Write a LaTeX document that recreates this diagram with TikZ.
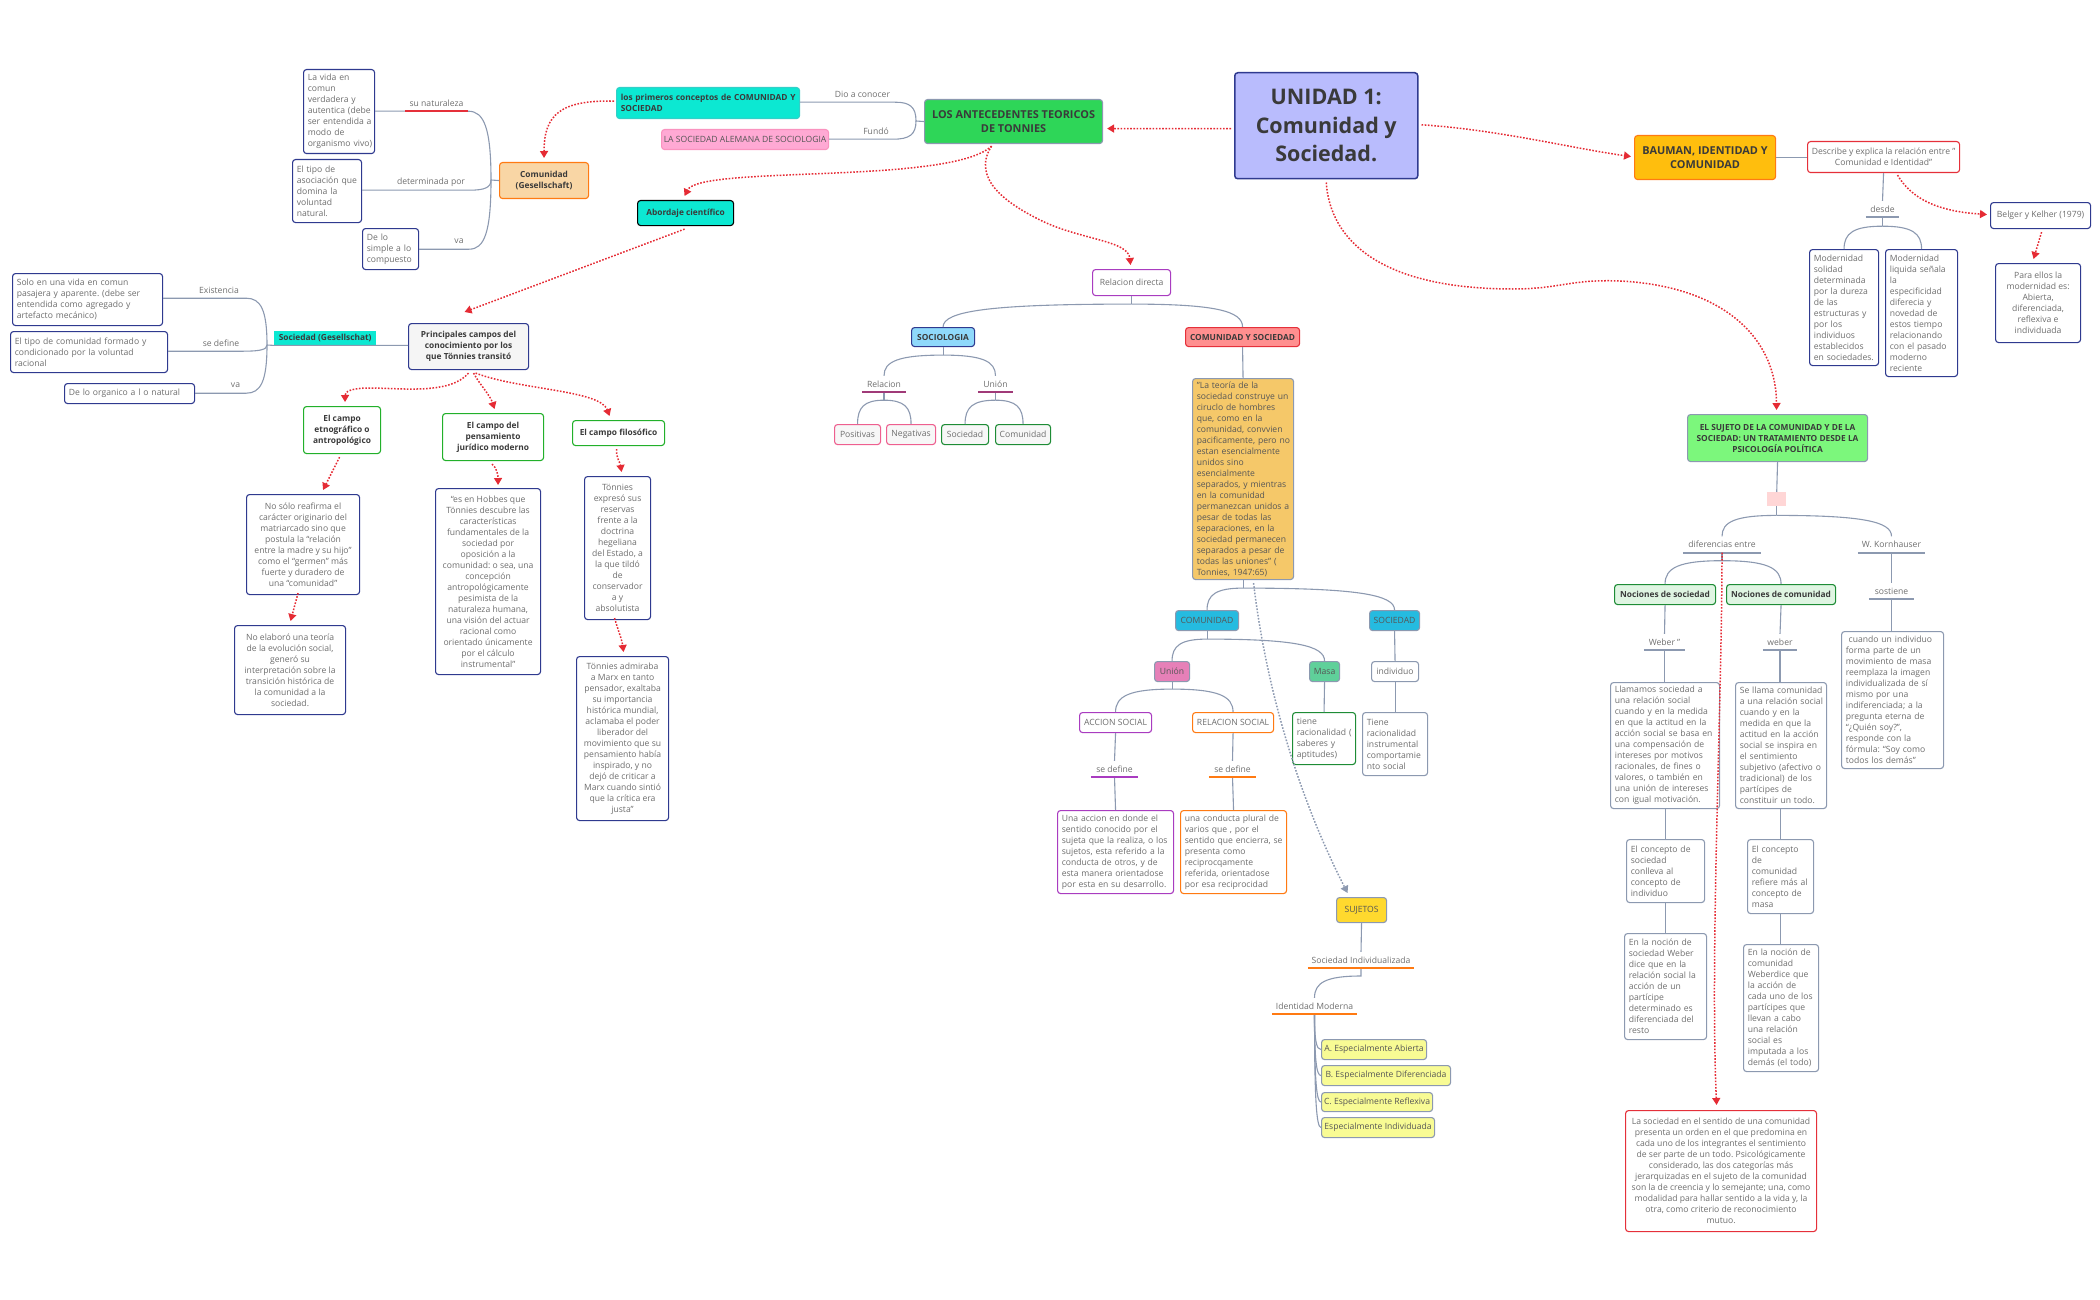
\documentclass[tikz,border=0pt]{standalone}
\usepackage{fontspec}
\setmainfont{Open Sans}
\usetikzlibrary{arrows.meta, calc}

\definecolor{txtgrey}{HTML}{6E6E6E}
\definecolor{txtdark}{HTML}{3A3A3A}
\definecolor{txtmid}{HTML}{565656}
\definecolor{connblue}{HTML}{8C99B0}
\definecolor{navyline}{HTML}{2F3A8F}
\definecolor{softline}{HTML}{8C99B0}
\definecolor{greenline}{HTML}{1E8C36}
\definecolor{limeline}{HTML}{22B02A}
\definecolor{purpleline}{HTML}{A93CC0}
\definecolor{orangeline}{HTML}{FF7A12}
\definecolor{redline}{HTML}{E5303A}
\definecolor{pinkline}{HTML}{EE5F8F}
\definecolor{maroonline}{HTML}{A03A78}
\definecolor{arrowred}{HTML}{E52B34}
\definecolor{unidadfill}{HTML}{B9BCFD}
\definecolor{losfill}{HTML}{2ED658}
\definecolor{baufill}{HTML}{FFBE0D}
\definecolor{comfill}{HTML}{F9D6A5}
\definecolor{cyanfill}{HTML}{0CE8D2}
\definecolor{pinkfill}{HTML}{FFA9D4}
\definecolor{skyfill}{HTML}{8FD9FB}
\definecolor{salmonfill}{HTML}{FF8F8F}
\definecolor{teorfill}{HTML}{F5C869}
\definecolor{bluefill}{HTML}{25BBE0}
\definecolor{unionfill}{HTML}{E680B8}
\definecolor{masafill}{HTML}{5FD09A}
\definecolor{yellowfill}{HTML}{FFD92E}
\definecolor{limefill}{HTML}{F8FB94}
\definecolor{sujfill}{HTML}{7CF77C}
\definecolor{blushfill}{HTML}{FFD6D6}
\definecolor{mintfill}{HTML}{DFF5E2}

\tikzset{
	sz/.style 2 args={minimum width=#1, minimum height=#2},
	lsz/.code 2 args={\pgfmathsetmacro\boxw{#1-8.5}\tikzset{minimum height=#2, text width=\boxw pt, inner xsep=4.25pt,
		execute at begin node={\rightskip=-30pt plus 1fil\relax\hyphenpenalty=10000\relax\exhyphenpenalty=10000\relax}}},
	tbox/.style={draw=#1, fill=white, rounded corners=3pt, line width=1.1pt, inner sep=0pt, anchor=north west,
		font=\fontsize{8.6}{11}\selectfont, text=txtgrey, align=left},
	cbox/.style={tbox=#1, align=center},
	bbox/.style={tbox=#1, align=center, text=txtdark, font=\fontsize{8.35}{11}\selectfont\bfseries},
	lbl/.style={inner sep=0pt, minimum height=16pt, font=\fontsize{8.6}{11}\selectfont, text=txtgrey},
	conn/.style={draw=connblue, line width=1.1pt},
	ul/.style={draw=#1, line width=1.6pt},
	tree/.style={to path={.. controls ($(\tikztostart)!0.75!(\tikztostart -| \tikztotarget)$) and ($(\tikztotarget)!0.7!(\tikztostart -| \tikztotarget)$) .. (\tikztotarget)}},
	trunk/.style={to path={.. controls ($(\tikztostart)!0.75!(\tikztostart |- \tikztotarget)$) and ($(\tikztotarget)!0.7!(\tikztostart |- \tikztotarget)$) .. (\tikztotarget)}},
	redarrow/.style={draw=arrowred, line width=1.5pt, dash pattern=on 1.6pt off 1.6pt, -{Triangle[length=7pt,width=8pt]}},
	greyarrow/.style={redarrow, draw=connblue}
}

\begin{document}
\frenchspacing
\begin{tikzpicture}[x=1pt, y=-1pt]
	\useasboundingbox (0,0) rectangle (2100,1300);

	% Centre
	\node[bbox=navyline, fill=unidadfill, sz={183}{106}, font=\fontsize{21.5}{28.5}\selectfont\bfseries, line width=1.5pt] (unidad) at (1234,72) {UNIDAD 1:\\Comunidad y\\Sociedad.};
	\node[bbox=softline, fill=losfill, sz={178}{44}, font=\fontsize{10.9}{14}\selectfont\bfseries] (losant) at (924,99) {LOS ANTECEDENTES TEORICOS\\DE TONNIES};
	\node[bbox=orangeline, fill=baufill, sz={141}{44}, font=\fontsize{10.9}{14}\selectfont\bfseries] (bauman) at (1634,135) {BAUMAN, IDENTIDAD Y\\COMUNIDAD};

	% Left, upper
	\node[tbox=navyline, lsz={71}{84}] (vida) at (303,69) {La vida en\\comun\\verdadera y\\autentica (debe\\ser entendida a\\modo de\\organismo vivo)};
	\node[tbox=navyline, lsz={69}{63}] (tipo) at (292,159) {El tipo de\\asociación que\\domina la\\voluntad\\natural.};
	\node[tbox=navyline, lsz={56}{41}] (simple) at (362,228) {De lo\\simple a lo\\compuesto};
	\node[bbox=orangeline, fill=comfill, sz={89}{36}] (comg) at (499,162) {Comunidad\\(Gesellschaft)};
	\node[lbl, minimum width=63pt] (sunat) at (436.5,103) {su naturaleza};
	\node[lbl, minimum width=76pt] (detpor) at (431,182) {determinada por};
	\node[lbl, minimum width=20pt] (vaa) at (459,241) {va};
	\coordinate (tcom) at (491,180);

	\node[bbox=cyanfill!70!softline, fill=cyanfill, lsz={183}{31}, align=left] (primeros) at (616,87) {los primeros conceptos de COMUNIDAD Y\\SOCIEDAD};
	\node[cbox=pinkfill!70!pinkline, fill=pinkfill, sz={167}{20}, text=txtmid] (alemana) at (661,129) {LA SOCIEDAD ALEMANA DE SOCIOLOGIA};
	\node[lbl, minimum width=65pt] (dio) at (862.5,94) {Dio a conocer};
	\node[lbl, minimum width=34pt] (fundo) at (876,131) {Fundó};
	\coordinate (tlos) at (916,121);

	\node[bbox=black, fill=cyanfill, sz={96}{25}] (abordaje) at (637,200) {Abordaje científico};

	% Left, lower
	\node[tbox=navyline, lsz={150}{52}] (solo) at (12,273) {Solo en una vida en comun\\pasajera y aparente. (debe ser\\entendida como agregado y\\artefacto mecánico)};
	\node[tbox=navyline, lsz={157}{41}] (tipoc) at (10,331) {El tipo de comunidad formado y\\condicionado por la voluntad\\racional};
	\node[tbox=navyline, lsz={130}{20}] (organico) at (64,383) {De lo organico a l o natural};
	\node[lbl, minimum width=54pt] (exist) at (219,290) {Existencia};
	\node[lbl, minimum width=44pt] (sedef) at (221,343) {se define};
	\node[lbl, minimum width=21pt] (vab) at (235.5,385) {va};
	\coordinate (tsoc) at (267,345);
	\node[anchor=north west, fill=cyanfill, sz={102}{14}, inner sep=0pt, text=txtdark, font=\fontsize{8.35}{11}\selectfont\bfseries] (socg) at (274,331) {Sociedad (Gesellschat)};
	\node[bbox=navyline, fill=black!4, sz={120}{46}] (principales) at (408,323) {Principales campos del\\conocimiento por los\\que Tönnies transitó};

	\node[bbox=limeline, sz={77}{47}] (etno) at (303,406) {El campo\\etnográfico o\\antropológico};
	\node[bbox=limeline, sz={101}{47}] (pens) at (442,413) {El campo del\\pensamiento\\jurídico moderno};
	\node[bbox=limeline, sz={92}{25}] (filo) at (572,420) {El campo filosófico};
	\node[cbox=navyline, sz={113}{100}] (nosolo) at (246,494) {No sólo reafirma el\\carácter originario del\\matriarcado sino que\\postula la “relación\\entre la madre y su hijo”\\como el “germen” más\\fuerte y duradero de\\una “comunidad”};
	\node[cbox=navyline, sz={111}{89}] (noelab) at (234,625) {No elaboró una teoría\\de la evolución social,\\generó su\\interpretación sobre la\\transición histórica de\\la comunidad a la\\sociedad.};
	\node[cbox=navyline, sz={105}{186}] (hobbes) at (435,488) {“es en Hobbes que\\Tönnies descubre las\\características\\fundamentales de la\\sociedad por\\oposición a la\\comunidad: o sea, una\\concepción\\antropológicamente\\pesimista de la\\naturaleza humana,\\una visión del actuar\\racional como\\orientado únicamente\\por el cálculo\\instrumental”};
	\node[cbox=navyline, sz={66}{143}] (tonnies) at (584,476) {Tönnies\\expresó sus\\reservas\\frente a la\\doctrina\\hegeliana\\del Estado, a\\la que tildó\\de\\conservador\\a y\\absolutista};
	\node[cbox=navyline, sz={92}{164}] (admira) at (576,656) {Tönnies admiraba\\a Marx en tanto\\pensador, exaltaba\\su importancia\\histórica mundial,\\aclamaba el poder\\liberador del\\movimiento que su\\pensamiento había\\inspirado, y no\\dejó de criticar a\\Marx cuando sintió\\que la crítica era\\justa”};

	% Middle
	\node[cbox=purpleline, sz={78}{26}] (reldir) at (1092,269) {Relacion directa};
	\node[bbox=navyline, fill=skyfill, sz={63}{19}] (sociologia) at (911,327) {SOCIOLOGIA};
	\node[bbox=redline, fill=salmonfill, sz={114}{19}] (cys) at (1185,327) {COMUNIDAD Y SOCIEDAD};
	\node[lbl, minimum width=44pt] (rel) at (884,384) {Relacion};
	\node[lbl, minimum width=35pt] (uni) at (995.5,384) {Unión};
	\node[cbox=pinkline, fill=black!3, sz={46}{20}] (pos) at (834,424) {Positivas};
	\node[cbox=pinkline, fill=black!3, sz={49}{20}] (neg) at (886,424) {Negativas};
	\node[cbox=greenline, fill=black!3, sz={47}{20}] (soci) at (941,424) {Sociedad};
	\node[cbox=greenline, fill=black!3, sz={55}{20}] (comi) at (995,424) {Comunidad};
	\node[tbox=softline, fill=teorfill, lsz={101}{201}, text=txtmid] (teoria) at (1192,378) {"La teoría de la\\sociedad construye un\\ciruclo de hombres\\que, como en la\\comunidad, convvien\\pacificamente, pero no\\estan esencialmente\\unidos sino\\esencialmente\\separados, y mientras\\en la comunidad\\permanezcan unidos a\\pesar de todas las\\separaciones, en la\\sociedad permanecen\\separados a pesar de\\todas las uniones" (\\Tonnies, 1947:65)};
	\node[cbox=softline, fill=bluefill, sz={63}{20}, text=txtmid] (comu) at (1175,610) {COMUNIDAD};
	\node[cbox=softline, fill=bluefill, sz={50}{20}, text=txtmid] (socd) at (1369,610) {SOCIEDAD};
	\node[cbox=softline, fill=unionfill, sz={35}{20}, text=txtmid] (union) at (1154,661) {Unión};
	\node[cbox=softline, fill=masafill, sz={30}{20}, text=txtmid] (masa) at (1309,661) {Masa};
	\node[cbox=softline, sz={47}{20}] (indiv) at (1371,661) {individuo};
	\node[cbox=purpleline, sz={72}{20}] (accion) at (1079,712) {ACCION SOCIAL};
	\node[cbox=orangeline, sz={81}{20}] (relsoc) at (1192,712) {RELACION SOCIAL};
	\node[tbox=greenline, lsz={63}{52}] (tienerac) at (1292,712) {tiene\\racionalidad (\\saberes y\\aptitudes)};
	\node[tbox=softline, lsz={65}{63}] (tiene) at (1362,712) {Tiene\\racionalidad\\instrumental\\comportamie\\nto social};
	\node[lbl, minimum width=47pt] (sedefa) at (1114.5,769) {se define};
	\node[lbl, minimum width=47pt] (sedefb) at (1232.5,769) {se define};
	\node[tbox=purpleline, lsz={116}{83}] (unaaccion) at (1057,810) {Una accion en donde el\\sentido conocido por el\\sujeta que la realiza, o los\\sujetos, esta referido a la\\conducta de otros, y de\\esta manera orientadose\\por esta en su desarrollo.};
	\node[tbox=orangeline, lsz={106}{83}] (conducta) at (1180,810) {una conducta plural de\\varios que , por el\\sentido que encierra, se\\presenta como\\reciprocqamente\\referida, orientadose\\por esa reciprocidad};
	\node[cbox=softline, fill=yellowfill, sz={50}{25}, text=txtmid] (sujetos) at (1336,897) {SUJETOS};
	\node[lbl, minimum width=106pt] (sind) at (1361,960) {Sociedad Individualizada};
	\node[lbl, minimum width=85pt] (idm) at (1314.5,1006) {Identidad Moderna};
	\coordinate (jsind) at (1361,976);
	\node[cbox=softline, fill=limefill, sz={105}{20}, text=txtmid] (espa) at (1321,1039) {A. Especialmente Abierta};
	\node[cbox=softline, fill=limefill, sz={129}{20}, text=txtmid] (espb) at (1321,1065) {B. Especialmente Diferenciada};
	\node[cbox=softline, fill=limefill, sz={111}{19}, text=txtmid] (espc) at (1321,1092) {C. Especialmente Reflexiva};
	\node[cbox=softline, fill=limefill, sz={113}{20}, text=txtmid] (espd) at (1321,1117) {Especialmente Individuada};

	% Right
	\node[cbox=redline, sz={152}{31}] (describe) at (1807,141) {Describe y explica la relación entre "\\Comunidad e Identidad"};
	\node[lbl, minimum width=33pt] (desde) at (1882.5,209) {desde};
	\node[tbox=navyline, lsz={69}{116}] (solida) at (1809,249) {Modernidad\\solidad\\determinada\\por la dureza\\de las\\estructuras y\\por los\\individuos\\establecidos\\en sociedades.};
	\node[tbox=navyline, lsz={72}{127}] (liquida) at (1885,249) {Modernidad\\liquida señala\\la\\especificidad\\diferecia y\\novedad de\\estos tiempo\\relacionando\\con el pasado\\moderno\\reciente};
	\node[cbox=navyline, sz={100}{26}] (belger) at (1990,202) {Belger y Kelher (1979)};
	\node[cbox=navyline, sz={85}{79}] (paraellos) at (1995,263) {Para ellos la\\modernidad es:\\Abierta,\\diferenciada,\\reflexiva e\\individuada};
	\node[bbox=softline, fill=sujfill, sz={180}{47}] (sujeto) at (1687,414) {EL SUJETO DE LA COMUNIDAD Y DE LA\\SOCIEDAD: UN TRATAMIENTO DESDE LA\\PSICOLOGÍA POLÍTICA};
	\node[anchor=north west, fill=blushfill, sz={19}{14}, inner sep=0pt] (blank) at (1767,492) {};
	\node[lbl, minimum width=78pt] (dif) at (1722,544.5) {diferencias entre};
	\node[lbl, minimum width=67pt] (korn) at (1891.5,544.5) {W. Kornhauser};
	\node[bbox=greenline, fill=mintfill, sz={101}{20}] (nsoc) at (1614,584) {Nociones de sociedad};
	\node[bbox=greenline, fill=mintfill, sz={109}{20}] (ncom) at (1726,584) {Nociones de comunidad};
	\node[lbl, minimum width=41pt] (wsoc) at (1664.5,642) {Weber "};
	\node[lbl, minimum width=34pt] (wcom) at (1780,642) {weber};
	\node[lbl, minimum width=45pt] (sost) at (1891.5,591) {sostiene};
	\node[tbox=softline, lsz={102}{137}] (cuando) at (1841,631) {\ cuando un individuo\\forma parte de un\\movimiento de masa\\reemplaza la imagen\\individualizada de sí\\mismo por una\\indiferenciada; a la\\pregunta eterna de\\“¿Quién soy?”,\\responde con la\\fórmula: “Soy como\\todos los demás”};
	\node[tbox=softline, lsz={109}{126}] (llamamos) at (1610,682) {Llamamos sociedad a\\una relación social\\cuando y en la medida\\en que la actitud en la\\acción social se basa en\\una compensación de\\intereses por motivos\\racionales, de fines o\\valores, o también en\\una unión de intereses\\con igual motivación.};
	\node[tbox=softline, lsz={91}{126}] (sellama) at (1735,682) {Se llama comunidad\\a una relación social\\cuando y en la\\medida en que la\\actitud en la acción\\social se inspira en\\el sentimiento\\subjetivo (afectivo o\\tradicional) de los\\partícipes de\\constituir un todo.};
	\node[tbox=softline, lsz={78}{63}] (concsoc) at (1626,839) {El concepto de\\sociedad\\conlleva al\\concepto de\\individuo};
	\node[tbox=softline, lsz={66}{74}] (conccom) at (1747,839) {El concepto\\de\\comunidad\\refiere más al\\concepto de\\masa};
	\node[tbox=softline, lsz={82}{106}] (nocsoc) at (1624,933) {En la noción de\\sociedad Weber\\dice que en la\\relación social la\\acción de un\\partícipe\\determinado es\\diferenciada del\\resto};
	\node[tbox=softline, lsz={75}{127}] (noccom) at (1743,944) {En la noción de\\comunidad\\Weberdice que\\la acción de\\cada uno de los\\partícipes que\\llevan a cabo\\una relación\\social es\\imputada a los\\demás (el todo)};
	\node[cbox=redline, sz={191}{121}] (lasoc) at (1625,1110) {La sociedad en el sentido de una comunidad\\presenta un orden en el que predomina en\\cada uno de los integrantes el sentimiento\\de ser parte de un todo. Psicológicamente\\considerado, las dos categorías más\\jerarquizadas en el sujeto de la comunidad\\son la de creencia y lo semejante; una, como\\modalidad para hallar sentido a la vida y, la\\otra, como criterio de reconocimiento\\mutuo.};

	% Trunks on the left
	\draw[conn] (comg.west) -- (tcom) to[trunk] (sunat.south east) -- (sunat.south west) -- (vida.east |- sunat.south west);
	\draw[conn] (tcom) to[trunk] (detpor.south east) -- (detpor.south west) -- (tipo.east |- detpor.south west);
	\draw[conn] (tcom) to[trunk] (vaa.south east) -- (vaa.south west) -- (simple.east |- vaa.south west);
	\draw[ul=redline] (sunat.south west) -- (sunat.south east);
	\draw[conn] (losant.west) -- (tlos) to[trunk] (dio.south east) -- (dio.south west) -- (primeros.east |- dio.south west);
	\draw[conn] (tlos) to[trunk] (fundo.south east) -- (fundo.south west) -- (alemana.east |- fundo.south west);
	\draw[conn] (principales.west |- socg.south east) -- (socg.south east) -- (socg.south west) -- (tsoc);
	\draw[conn] (tsoc) to[trunk] (exist.south east) -- (exist.south west) -- (solo.east |- exist.south west);
	\draw[conn] (tsoc) to[trunk] (sedef.south east) -- (sedef.south west) -- (tipoc.east |- sedef.south west);
	\draw[conn] (tsoc) to[trunk] (vab.south east) -- (vab.south west) -- (organico.east |- vab.south west);

	% Trees
	\coordinate (jrd) at ($(reldir.south)+(0,8)$);
	\draw[conn] (reldir.south) -- (jrd);
	\foreach \kid in {sociologia,cys}
		\draw[conn] (jrd) to[tree] (\kid.north);
	\coordinate (jsoc) at ($(sociologia.south)+(0,8)$);
	\draw[conn] (sociologia.south) -- (jsoc);
	\foreach \kid in {rel,uni}
		\draw[conn] (jsoc) to[tree] (\kid.north);
	\coordinate (jrel) at ($(rel.south)+(0,8)$);
	\draw[conn] (rel.south) -- (jrel);
	\foreach \kid in {pos,neg}
		\draw[conn] (jrel) to[tree] (\kid.north);
	\coordinate (juni) at ($(uni.south)+(0,8)$);
	\draw[conn] (uni.south) -- (juni);
	\foreach \kid in {soci,comi}
		\draw[conn] (juni) to[tree] (\kid.north);
	\draw[conn] (cys.south) -- (teoria.north);
	\coordinate (jteo) at ($(teoria.south)+(0,8)$);
	\draw[conn] (teoria.south) -- (jteo);
	\foreach \kid in {comu,socd}
		\draw[conn] (jteo) to[tree] (\kid.north);
	\coordinate (jcomu) at ($(comu.south)+(0,8)$);
	\draw[conn] (comu.south) -- (jcomu);
	\foreach \kid in {union,masa}
		\draw[conn] (jcomu) to[tree] (\kid.north);
	\coordinate (jun) at ($(union.south)+(0,7)$);
	\draw[conn] (union.south) -- (jun);
	\foreach \kid in {accion,relsoc}
		\draw[conn] (jun) to[tree] (\kid.north);
	\draw[conn] (masa.south) -- (tienerac.north);
	\draw[conn] (socd.south) -- (indiv.north);
	\draw[conn] (indiv.south) -- (tiene.north);
	\draw[conn] (accion.south) -- (sedefa.north);
	\draw[conn] (sedefa.south) -- (unaaccion.north);
	\draw[conn] (relsoc.south) -- (sedefb.north);
	\draw[conn] (sedefb.south) -- (conducta.north);
	\draw[conn] (sujetos.south) -- (sind.north);
	\draw[conn] (sind.south) -- (jsind) to[tree] (idm.north);
	\foreach \kid in {espa,espb,espc,espd}
		\draw[conn] (idm.south) to[trunk] (\kid.west);
	\draw[conn] (bauman.east) -- (describe.west |- bauman.east);
	\draw[conn] (describe.south) -- (desde.north);
	\coordinate (jdes) at ($(desde.south)+(0,9)$);
	\draw[conn] (desde.south) -- (jdes);
	\foreach \kid in {solida,liquida}
		\draw[conn] (jdes) to[tree] (\kid.north);
	\draw[conn] (sujeto.south) -- (blank.north);
	\coordinate (jbla) at ($(blank.south)+(0,9)$);
	\draw[conn] (blank.south) -- (jbla);
	\foreach \kid in {dif,korn}
		\draw[conn] (jbla) to[tree] (\kid.north);
	\coordinate (jdif) at ($(dif.south)+(0,8)$);
	\draw[conn] (dif.south) -- (jdif);
	\foreach \kid in {nsoc,ncom}
		\draw[conn] (jdif) to[tree] (\kid.north);
	\draw[conn] (nsoc.south) -- (wsoc.north);
	\draw[conn] (wsoc.south) -- (llamamos.north -| wsoc.south);
	\draw[conn] (ncom.south) -- (wcom.north);
	\draw[conn] (wcom.south) -- (sellama.north -| wcom.south);
	\draw[conn] (korn.south) -- (sost.north);
	\draw[conn] (sost.south) -- (cuando.north -| sost.south);
	\draw[conn] (llamamos.south -| concsoc.north) -- (concsoc.north);
	\draw[conn] (concsoc.south) -- (nocsoc.north -| concsoc.south);
	\draw[conn] (sellama.south -| conccom.north) -- (conccom.north);
	\draw[conn] (conccom.south) -- (noccom.north -| conccom.south);

	% Coloured rules
	\foreach \n/\c in {rel/maroonline,uni/maroonline,sedefa/purpleline,sedefb/orangeline,sind/orangeline,idm/orangeline,desde/connblue,dif/connblue,korn/connblue,wsoc/connblue,wcom/connblue,sost/connblue}
		\draw[ul=\c] (\n.south west) -- (\n.south east);

	% Dotted arrows
	\draw[redarrow] ($(unidad.west)+(-3,3)$) -- ($(losant.east)+(4,7)$);
	\draw[redarrow] ($(unidad.east)+(3,-1)$) .. controls (1500,130) and (1570,148) .. ($(bauman.west)+(-3,-1)$);
	\draw[redarrow] ($(unidad.south)+(0,3)$) .. controls (1330,240) and (1380,289) .. (1513,289) .. controls (1560,289) and (1570,279) .. (1620,281) .. controls (1720,286) and (1776,335) .. ($(sujeto.north)+(-1,-4)$);
	\draw[redarrow] ($(losant.south)+(-22,2)$) .. controls (950,185) and (700,165) .. ($(abordaje.north)+(-1,-4)$);
	\draw[redarrow] ($(losant.south)+(-22,2)$) .. controls (970,180) and (1010,205) .. (1040,220) .. controls (1080,240) and (1128,240) .. ($(reldir.north)+(-1,-4)$);
	\draw[redarrow] ($(primeros.west)+(-2,-2)$) .. controls (560,100) and (544,115) .. ($(comg.north)+(0,-4)$);
	\draw[redarrow] ($(abordaje.south)+(-1,3)$) -- ($(principales.north)+(-4,-11)$);
	\draw[redarrow] ($(principales.south)+(0,3)$) .. controls (450,395) and (400,388) .. (370,388) .. controls (350,388) and (345,392) .. ($(etno.north)+(3,-4)$);
	\draw[redarrow] ($(principales.south)+(5,3)$) .. controls (480,385) and (490,395) .. ($(pens.north)+(1.5,-4)$);
	\draw[redarrow] ($(principales.south)+(7,3)$) .. controls (520,390) and (600,390) .. ($(filo.north)+(-9,-4)$);
	\draw[redarrow] ($(etno.south)+(-2.5,3)$) -- ($(nosolo.north)+(20,-4)$);
	\draw[redarrow] ($(nosolo.south)+(-5,-2)$) -- ($(noelab.north)+(0.5,-4)$);
	\draw[redarrow] ($(pens.south)+(-1,3)$) .. controls (497,468) and (498,475) .. ($(hobbes.north)+(10,-3)$);
	\draw[redarrow] ($(filo.south)+(-2,3)$) .. controls (616,458) and (620,462) .. ($(tonnies.north)+(4,-4)$);
	\draw[redarrow] ($(tonnies.south)+(-3,-2)$) .. controls (618,630) and (622,640) .. ($(admira.north)+(1,-4)$);
	\draw[redarrow] ($(describe.south)+(14,2)$) .. controls (1915,205) and (1950,212) .. ($(belger.west)+(-3,-1)$);
	\draw[redarrow] ($(belger.south)+(1,3)$) -- ($(paraellos.north)+(-4.5,-4)$);
	\draw[redarrow] (dif.south) .. controls (1722,700) and (1710,950) .. ($(lasoc.north)+(-4.5,-5)$);
	\draw[greyarrow] ($(teoria.south)+(10.5,3)$) .. controls (1265,680) and (1295,790) .. ($(sujetos.north)+(-14,-4)$);

\end{tikzpicture}
\end{document}
